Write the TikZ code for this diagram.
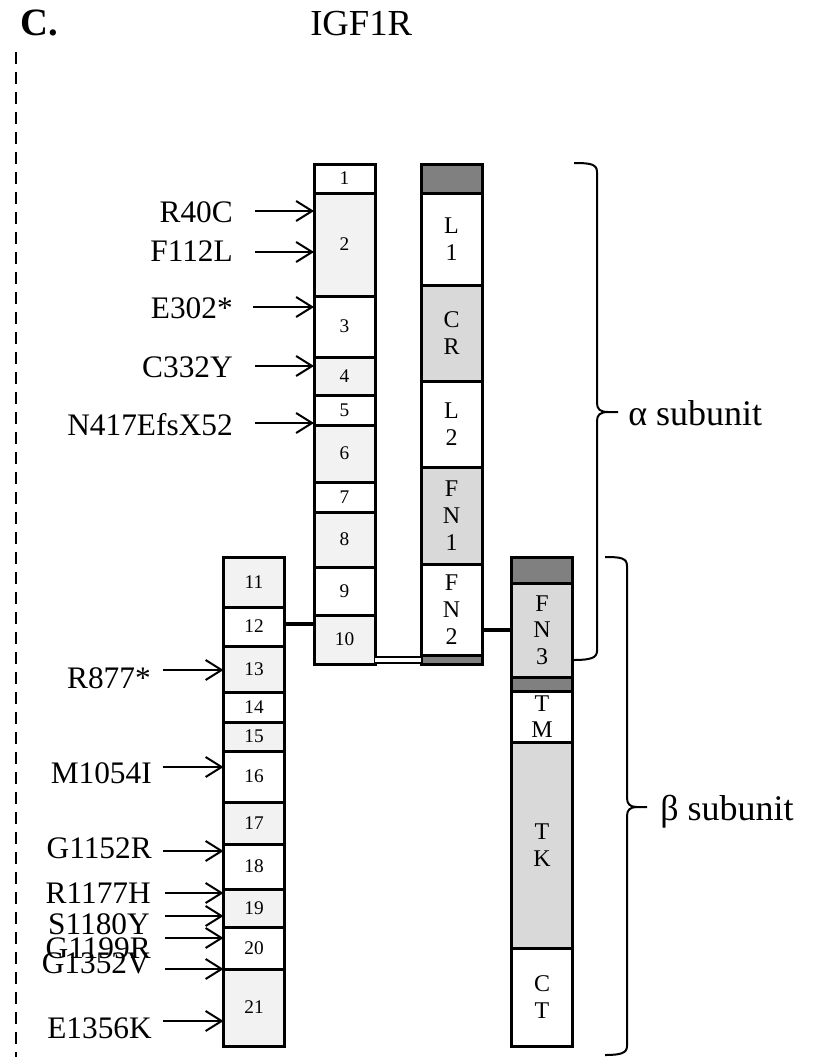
\documentclass[tikz,border=0pt]{standalone}
\usepackage{fontspec}
\setmainfont{Liberation Serif}
\usepackage{xcolor}
\usepackage{tikz}
\usetikzlibrary{arrows.meta}

\definecolor{exonfill}{HTML}{F2F2F2}
\definecolor{domfill}{HTML}{D9D9D9}
\definecolor{darkfill}{HTML}{808080}

\begin{document}
\begin{tikzpicture}[x=0.75pt,y=0.75pt,yscale=-1,xscale=1,
    box/.style={draw, line width=2.25pt, minimum width=45.75pt, inner sep=0pt, outer sep=0pt, align=center},
    exon/.style={box, font=\fontsize{14.5}{16}\selectfont},
    dom/.style={box, font=\fontsize{18}{20}\selectfont},
    mut/.style={anchor=base east, inner sep=0pt, font=\fontsize{23.5}{28}\selectfont},
    mutarrow/.style={-{Straight Barb[length=12pt,width=15pt]}, line width=1.5pt},
    link/.style={line width=3pt},
    dlink/.style={line width=1.5pt, double, double distance=3pt},
    bracket/.style={line width=1.5pt}]
            %uncomment if require: \path (0,1057); %set diagram left start at 0, and has height of 1057
            \useasboundingbox (0,0) rectangle (816,1057);

            % Text Node
            \node [anchor=base west, inner sep=0pt, font=\fontsize{29}{34}\selectfont\bfseries] (panel) at (20,35) {C.};
            % Text Node
            \node [anchor=base west, inner sep=0pt, font=\fontsize{27.5}{32}\selectfont] (gene) at (310,35) {IGF1R};

            %Straight Lines
            \draw [line width=1.5pt, dash pattern={on 9pt off 6pt}] (16,52) -- (16,1057) ;

            %Shape: Rectangle  (exons 1-10)
            \node [exon, minimum height=21.75pt] (e1) at (344.5,178.5) {1};
            \node [exon, fill=exonfill, minimum height=77.25pt] (e2) at (344.5,244.5) {2};
            \node [exon, minimum height=45.75pt] (e3) at (344.5,326.5) {3};
            \node [exon, fill=exonfill, minimum height=28.5pt] (e4) at (344.5,376) {4};
            \node [exon, minimum height=22.5pt] (e5) at (344.5,410) {5};
            \node [exon, fill=exonfill, minimum height=42.75pt] (e6) at (344.5,453.5) {6};
            \node [exon, minimum height=22.5pt] (e7) at (344.5,497) {7};
            \node [exon, fill=exonfill, minimum height=41.25pt] (e8) at (344.5,539.5) {8};
            \node [exon, minimum height=36pt] (e9) at (344.5,591) {9};
            \node [exon, fill=exonfill, minimum height=36.75pt] (e10) at (344.5,639.5) {10};

            %Shape: Rectangle  (alpha domains)
            \node [dom, fill=darkfill, minimum height=21.75pt] (dk1) at (451.5,178.5) {};
            \node [dom, minimum height=69pt] (l1) at (451.5,239) {L\\1};
            \node [dom, fill=domfill, minimum height=72pt] (cr) at (451.5,333) {C\\R};
            \node [dom, minimum height=64.5pt] (l2) at (451.5,424) {L\\2};
            \node [dom, fill=domfill, minimum height=72.75pt] (fn1) at (451.5,515.5) {F\\N\\1};
            \node [dom, minimum height=68.25pt] (fn2) at (451.5,609.5) {F\\N\\2};
            \node [dom, fill=darkfill, minimum height=6.75pt] (dk2) at (451.5,659.5) {};

            %Shape: Rectangle  (exons 11-21)
            \node [exon, fill=exonfill, minimum height=37.5pt] (e11) at (254,582) {11};
            \node [exon, minimum height=29.25pt] (e12) at (254,626.5) {12};
            \node [exon, fill=exonfill, minimum height=34.5pt] (e13) at (254,669) {13};
            \node [exon, minimum height=22.5pt] (e14) at (254,707) {14};
            \node [exon, fill=exonfill, minimum height=21.75pt] (e15) at (254,736.5) {15};
            \node [exon, minimum height=38.25pt] (e16) at (254,776.5) {16};
            \node [exon, fill=exonfill, minimum height=31.5pt] (e17) at (254,823) {17};
            \node [exon, minimum height=33.75pt] (e18) at (254,866.5) {18};
            \node [exon, fill=exonfill, minimum height=28.5pt] (e19) at (254,908) {19};
            \node [exon, minimum height=31.5pt] (e20) at (254,948) {20};
            \node [exon, fill=exonfill, minimum height=57.75pt] (e21) at (254,1007.5) {21};

            %Shape: Rectangle  (beta domains)
            \node [dom, fill=darkfill, minimum height=19.5pt] (dk3) at (542,570) {};
            \node [dom, fill=domfill, minimum height=70.5pt] (fn3) at (542,630) {F\\N\\3};
            \node [dom, fill=darkfill, minimum height=10.5pt] (dk4) at (542,684) {};
            \node [dom, minimum height=38.25pt] (tm) at (542,716.5) {T\\M};
            \node [dom, fill=domfill, minimum height=154.5pt] (tk) at (542,845) {T\\K};
            \node [dom, minimum height=73.5pt] (ct) at (542,997) {C\\T};

            %Straight Lines  (links)
            \draw [link] ([yshift=-2pt]e12.east) -- ([yshift=-2pt]e12.east -| e10.west) ;
            \draw [link] (fn2.east |- fn3.west) -- (fn3.west) ;
            \draw [dlink] (e10.east |- dk2.west) -- (dk2.west) ;

            % Text Node  (mutations, exons 1-10)
            \node [mut] (mR40C) at (233,222) {R40C};
            \node [mut] (mF112L) at (233,261) {F112L};
            \node [mut] (mE302) at (233,318) {E302*};
            \node [mut] (mC332Y) at (233,377) {C332Y};
            \node [mut] (mN417) at (233,435) {N417EfsX52};
            \coordinate (aR40C) at (255,211);
            \coordinate (aF112L) at (255,252);
            \coordinate (aE302) at (253,307);
            \coordinate (aC332Y) at (255,366);
            \coordinate (aN417) at (255,423);
            %Straight Lines
            \draw [mutarrow] (aR40C) -- (aR40C -| e2.west) ;
            \draw [mutarrow] (aF112L) -- (aF112L -| e2.west) ;
            \draw [mutarrow] (aE302) -- (aE302 -| e3.west) ;
            \draw [mutarrow] (aC332Y) -- (aC332Y -| e4.west) ;
            \draw [mutarrow] (aN417) -- (aN417 -| e5.west) ;

            % Text Node  (mutations, exons 11-21)
            \node [mut] (mR877) at (151,688) {R877*};
            \node [mut] (mM1054I) at (152,783) {M1054I};
            \node [mut] (mG1152R) at (152,858) {G1152R};
            \node [mut] (mR1177H) at (151,903) {R1177H};
            \node [mut] (mS1180Y) at (150,934) {S1180Y};
            \node [mut] (mG1199R) at (151,958) {G1199R};
            \node [mut] (mG1352V) at (150,973) {G1352V};
            \node [mut] (mE1356K) at (152,1038) {E1356K};
            \coordinate (aR877) at (163,670);
            \coordinate (aM1054I) at (163,767);
            \coordinate (aG1152R) at (163,851);
            \coordinate (aR1177H) at (165,893);
            \coordinate (aS1180Y) at (165,916);
            \coordinate (aG1199R) at (165,938);
            \coordinate (aG1352V) at (165,969);
            \coordinate (aE1356K) at (163,1021);
            %Straight Lines
            \draw [mutarrow] (aR877) -- (aR877 -| e13.west) ;
            \draw [mutarrow] (aM1054I) -- (aM1054I -| e16.west) ;
            \draw [mutarrow] (aG1152R) -- (aG1152R -| e18.west) ;
            \draw [mutarrow] (aR1177H) -- (aR1177H -| e19.west) ;
            \draw [mutarrow] (aS1180Y) -- (aS1180Y -| e19.west) ;
            \draw [mutarrow] (aG1199R) -- (aG1199R -| e20.west) ;
            \draw [mutarrow] (aG1352V) -- (aG1352V -| e21.west) ;
            \draw [mutarrow] (aE1356K) -- (aE1356K -| e21.west) ;

            %Curve Lines  (alpha brace)
            \draw [bracket] (574,163) .. controls (590,163) and (597,164) .. (597,172) -- (597,403) .. controls (597,409) and (600,412) .. (608,412) -- (618,412) ;
            \draw [bracket] (608,412) .. controls (600,412) and (597,415) .. (597,421) -- (597,651) .. controls (597,658) and (590,660) .. (574,660) ;
            %Curve Lines  (beta brace)
            \draw [bracket] (605,557) .. controls (621,557) and (627,558) .. (627,566) -- (627,798) .. controls (627,804) and (630,807) .. (637,807) -- (647,807) ;
            \draw [bracket] (637,807) .. controls (630,807) and (627,810) .. (627,816) -- (627,1046) .. controls (627,1053) and (621,1055) .. (605,1055) ;

            % Text Node
            \node [anchor=base west, inner sep=0pt, font=\fontsize{27}{32}\selectfont] (alpha) at (628,425) {α subunit};
            % Text Node
            \node [anchor=base west, inner sep=0pt, font=\fontsize{27}{32}\selectfont] (beta) at (660,820) {β subunit};

\end{tikzpicture}
\end{document}
